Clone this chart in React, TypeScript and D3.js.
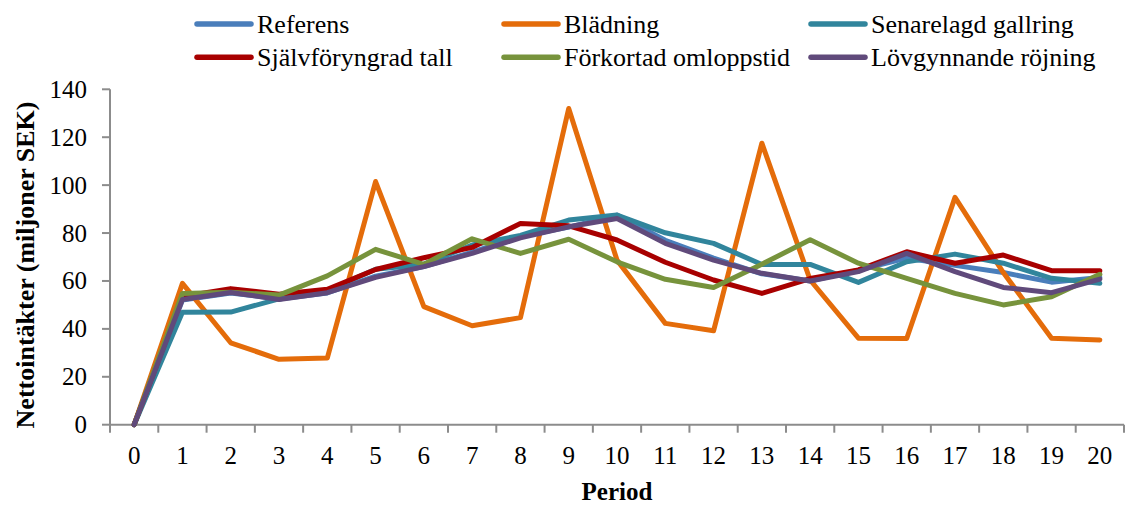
import React from "react";
import * as d3 from "d3";

// Period categories along the x axis
const periods = ["0","1","2","3","4","5","6","7","8","9","10","11","12","13","14","15","16","17","18","19","20"];

// Net revenue per period (million SEK) for each scenario
const referens = [0, 52, 55, 52.5, 55, 62, 66, 72, 78.5, 82.5, 87.5, 77, 69.5, 63, 60, 64.5, 69.5, 66.5, 63.5, 59.5, 61.5];
const bladning = [0, 59, 34.2, 27.3, 27.8, 101.5, 49.3, 41.3, 44.7, 132, 68.7, 42.3, 39.2, 117.5, 60.4, 36.1, 36, 94.9, 63.5, 36.1, 35.4];
const senarelagd = [0, 46.9, 47, 52.5, 56, 64.9, 67, 75, 79, 85.4, 87.5, 80.1, 75.7, 66.9, 66.9, 59.4, 68, 71.2, 67.4, 61.1, 59];
const sjalvforyngrad = [0, 53.5, 56.8, 54.5, 56.5, 64.8, 69.7, 74, 84, 83, 77.1, 67.8, 60.4, 54.8, 61, 64.6, 72.2, 67.4, 70.8, 64.3, 64.3];
const forkortad = [0, 54.8, 55.3, 54.1, 62.1, 73.2, 66.9, 77.6, 71.5, 77.4, 68, 60.7, 57.3, 67, 77.2, 67.4, 61.1, 54.8, 50, 53.4, 62.8];
const lovgynnande = [0, 52.3, 55.2, 52.3, 55.1, 61.5, 66, 71.5, 78, 82.6, 86.1, 75.7, 68.7, 63.2, 60, 63.9, 71.5, 63.9, 57.3, 55.1, 60.8];

const seriesNames = ["Referens", "Blädning", "Senarelagd gallring", "Självföryngrad tall", "Förkortad omloppstid", "Lövgynnande röjning"];
const seriesValues = [referens, bladning, senarelagd, sjalvforyngrad, forkortad, lovgynnande];
const seriesColors = ["#4A7EBB", "#E46C0A", "#31859C", "#A80000", "#77933C", "#604A7B"];

const yTicks = [0, 20, 40, 60, 80, 100, 120, 140];

const W = 1125;
const H = 506;
const left = 110;
const right = 1124;
const top = 89.3;
const bottom = 424.7;
const axisColor = "#8c8c8c";
const font = "'Liberation Serif', 'Times New Roman', serif";

export default function App() {
  const x = d3.scaleBand<string>().domain(periods).range([left, right]).padding(0);
  const y = d3.scaleLinear().domain([0, 140]).range([bottom, top]);
  const cx = (p: string) => (x(p) as number) + x.bandwidth() / 2;

  const line = d3
    .line<number>()
    .x((_, i) => cx(periods[i]))
    .y((v) => y(v));

  const boundaries = periods.map((p) => x(p) as number).concat([right]);

  const legendCols = [197, 504, 811];
  const legendRows = [24, 57.3];

  return (
    <svg
      width={W}
      height={H}
      style={{ position: "absolute", left: 0, top: 0, background: "#fff" }}
      fontFamily={font}
    >
      {/* legend */}
      {seriesNames.map((name, i) => {
        const col = legendCols[i % 3];
        const row = legendRows[Math.floor(i / 3)];
        return (
          <g key={name}>
            <line x1={col} x2={col + 54} y1={row} y2={row} stroke={seriesColors[i]} strokeWidth={5.5} strokeLinecap="round" />
            <text x={col + 60} y={row + 8.8} fontSize={26} fill="#000">
              {name}
            </text>
          </g>
        );
      })}

      {/* y axis */}
      <line x1={left} x2={left} y1={y(0)} y2={y(140)} stroke={axisColor} strokeWidth={2} />
      {yTicks.map((t) => (
        <g key={t}>
          <line x1={left - 8} x2={left} y1={y(t)} y2={y(t)} stroke={axisColor} strokeWidth={2} />
          <text x={87} y={y(t)} dy="0.34em" textAnchor="end" fontSize={25} fill="#000">
            {t}
          </text>
        </g>
      ))}

      {/* x axis */}
      <line x1={left} x2={right} y1={y(0)} y2={y(0)} stroke={axisColor} strokeWidth={2} />
      {boundaries.map((b, i) => (
        <line key={i} x1={b} x2={b} y1={y(0)} y2={y(0) + 8} stroke={axisColor} strokeWidth={2} />
      ))}
      {periods.map((p) => (
        <text key={p} x={cx(p)} y={464} textAnchor="middle" fontSize={25} fill="#000">
          {p}
        </text>
      ))}

      {/* axis titles */}
      <text x={(left + right) / 2} y={500} textAnchor="middle" fontSize={25} fontWeight="bold" fill="#000">
        Period
      </text>
      <text
        transform={`translate(34, ${(98 + 432) / 2}) rotate(-90)`}
        textAnchor="middle"
        fontSize={26}
        fontWeight="bold"
        fill="#000"
      >
        Nettointäkter (miljoner SEK)
      </text>

      {/* series lines */}
      {seriesValues.map((vals, i) => (
        <path
          key={seriesNames[i]}
          d={line(vals) as string}
          fill="none"
          stroke={seriesColors[i]}
          strokeWidth={5}
          strokeLinejoin="round"
          strokeLinecap="round"
        />
      ))}
    </svg>
  );
}
